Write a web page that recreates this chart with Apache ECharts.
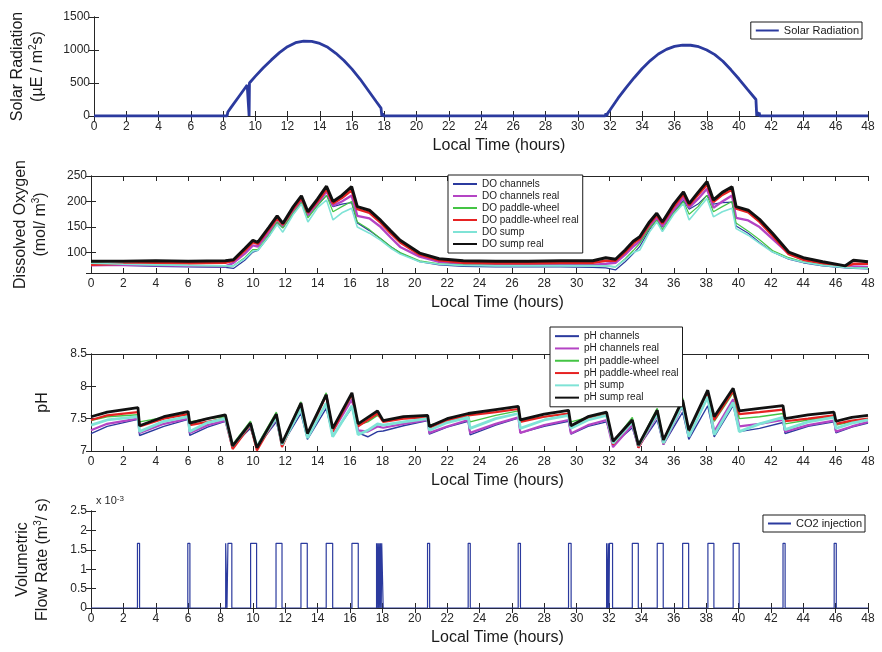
<!DOCTYPE html>
<html>
<head>
<meta charset="utf-8">
<script src="https://cdn.jsdelivr.net/npm/echarts@6/dist/echarts.min.js"></script>
<style>html,body{margin:0;padding:0;background:#fff}#chart{width:882px;height:652px}</style>
</head>
<body>
<div id="chart"></div>
<script>
// solar radiation (uE/m2s)
const solarTime = [0, 8.25, 8.3, 8.5, 9.0, 9.5, 9.6, 9.62, 9.64, 10, 10.5, 11, 11.5, 12, 12.5, 13, 13.5, 14, 14.5, 15, 15.5, 16, 16.5, 17, 17.5, 17.8, 17.85, 17.9, 17.95, 18.0, 18.05, 31.7, 31.75, 31.8, 31.85, 32, 32.5, 33, 33.5, 34, 34.5, 35, 35.5, 36, 36.5, 37, 37.5, 38, 38.5, 39, 39.5, 40, 40.5, 41.05, 41.1, 41.15, 41.2, 41.25, 41.3, 48];
const solarValue = [0, 0, 60, 130, 300, 470, 495, 0, 500, 600, 730, 850, 960, 1050, 1110, 1135, 1130, 1100, 1040, 950, 840, 710, 560, 390, 220, 120, 0, 40, 0, 30, 0, 0, 40, 0, 40, 90, 270, 430, 580, 720, 840, 940, 1010, 1055, 1075, 1072, 1050, 1000, 930, 830, 700, 560, 410, 250, 0, 60, 0, 50, 0, 0];

// dissolved oxygen (mol/m3)
const doTime = [0, 2, 4, 6, 8.3, 8.8, 9.5, 10.0, 10.3, 11.0, 11.5, 11.85, 12.5, 13.0, 13.4, 14.0, 14.55, 14.95, 15.5, 16.1, 16.45, 17.2, 17.9, 18.5, 19.1, 20.3, 21.5, 23, 25, 27, 29, 31, 31.8, 32.4, 33.0, 33.5, 33.9, 34.5, 34.95, 35.3, 36.0, 36.6, 36.95, 37.5, 38.05, 38.45, 39.0, 39.6, 39.85, 40.6, 41.3, 42.1, 43.1, 44.0, 45.2, 46.6, 47.1, 48];
const doChannels = [77, 75, 73, 72, 71, 69, 85, 101, 104, 132, 158, 150, 176, 197, 175, 193, 212, 190, 195, 198, 158, 143, 127, 112, 99, 82, 76, 73, 72, 72, 72, 71, 70, 66, 82, 98, 112, 145, 165, 150, 180, 202, 185, 195, 212, 195, 198, 199, 152, 138, 120, 101, 87, 80, 74, 70, 69, 68];
const doChannelsReal = [75, 76, 75, 74, 73, 80, 98, 114, 112, 140, 160, 150, 180, 200, 172, 195, 220, 192, 200, 212, 172, 167, 150, 130, 111, 92, 82, 78, 76, 76, 76, 76, 78, 80, 96, 112, 122, 150, 168, 152, 183, 208, 188, 205, 225, 188, 200, 212, 168, 163, 150, 127, 98, 86, 79, 72, 73, 72];
const doPaddle = [80, 78, 76, 75, 74, 74, 90, 106, 106, 135, 160, 148, 178, 198, 168, 192, 212, 180, 190, 200, 160, 145, 127, 112, 100, 84, 78, 76, 75, 75, 75, 75, 74, 72, 88, 104, 118, 148, 163, 145, 178, 200, 175, 190, 212, 180, 190, 200, 158, 142, 125, 104, 90, 82, 76, 71, 70, 70];
const doPaddleReal = [76, 78, 80, 79, 80, 84, 104, 120, 117, 146, 167, 155, 186, 206, 178, 200, 224, 196, 207, 222, 185, 178, 158, 138, 120, 96, 85, 80, 79, 79, 80, 80, 84, 84, 101, 118, 127, 156, 173, 157, 190, 214, 193, 213, 233, 199, 213, 223, 186, 179, 160, 133, 97, 86, 79, 72, 78, 78];
const doSump = [79, 77, 76, 75, 74, 74, 88, 103, 104, 132, 155, 140, 175, 195, 160, 188, 203, 164, 178, 187, 150, 138, 124, 109, 97, 82, 77, 75, 74, 74, 74, 74, 74, 72, 86, 100, 105, 140, 160, 141, 175, 196, 164, 185, 206, 170, 180, 187, 147, 134, 118, 101, 88, 81, 75, 71, 70, 69];
const doSumpReal = [83, 83, 84, 83, 84, 86, 108, 124, 120, 150, 172, 157, 190, 211, 180, 205, 230, 200, 212, 229, 190, 183, 163, 143, 124, 99, 88, 84, 83, 83, 84, 84, 90, 87, 105, 122, 131, 160, 177, 160, 195, 219, 196, 218, 239, 203, 218, 229, 190, 183, 165, 138, 101, 90, 82, 74, 85, 82];

// pH
const phTime = [0, 1, 2.9, 3.0, 4.5, 6.0, 6.1, 7.2, 8.3, 8.75, 9.85, 10.25, 11.45, 11.8, 12.97, 13.37, 14.53, 14.93, 16.12, 16.5, 17.1, 17.7, 18.05, 19.3, 20.8, 20.9, 22.0, 23.3, 23.42, 25.0, 26.4, 26.52, 28.0, 29.5, 29.65, 30.7, 31.85, 32.25, 33.44, 33.82, 34.98, 35.36, 36.55, 36.93, 38.1, 38.5, 39.67, 40.05, 41.3, 42.75, 42.88, 44.3, 45.9, 46.02, 47.0, 48];
const phChannels = [7.27, 7.38, 7.49, 7.24, 7.38, 7.49, 7.24, 7.37, 7.46, 7.08, 7.35, 7.06, 7.45, 7.10, 7.58, 7.18, 7.66, 7.24, 7.67, 7.28, 7.22, 7.30, 7.31, 7.39, 7.47, 7.26, 7.37, 7.46, 7.25, 7.40, 7.51, 7.28, 7.38, 7.46, 7.26, 7.38, 7.45, 7.10, 7.36, 7.06, 7.48, 7.10, 7.60, 7.18, 7.70, 7.22, 7.70, 7.30, 7.35, 7.44, 7.27, 7.38, 7.45, 7.28, 7.37, 7.43];
const phChannelsReal = [7.32, 7.42, 7.50, 7.28, 7.42, 7.50, 7.28, 7.40, 7.47, 7.05, 7.40, 7.05, 7.50, 7.08, 7.70, 7.22, 7.88, 7.30, 7.80, 7.32, 7.30, 7.38, 7.36, 7.42, 7.48, 7.28, 7.38, 7.48, 7.28, 7.42, 7.52, 7.28, 7.40, 7.48, 7.27, 7.40, 7.48, 7.06, 7.40, 7.05, 7.55, 7.10, 7.70, 7.22, 7.85, 7.30, 7.80, 7.38, 7.42, 7.48, 7.30, 7.40, 7.47, 7.30, 7.38, 7.45];
const phPaddle = [7.47, 7.53, 7.56, 7.45, 7.52, 7.56, 7.45, 7.50, 7.53, 7.10, 7.46, 7.08, 7.60, 7.12, 7.76, 7.25, 7.90, 7.32, 7.86, 7.40, 7.45, 7.55, 7.48, 7.50, 7.52, 7.40, 7.47, 7.55, 7.45, 7.55, 7.62, 7.47, 7.53, 7.58, 7.45, 7.52, 7.57, 7.14, 7.52, 7.10, 7.66, 7.16, 7.82, 7.30, 7.92, 7.46, 7.90, 7.50, 7.53, 7.58, 7.42, 7.48, 7.53, 7.40, 7.45, 7.48];
const phPaddleReal = [7.48, 7.55, 7.60, 7.38, 7.50, 7.57, 7.40, 7.45, 7.50, 7.03, 7.40, 7.01, 7.53, 7.06, 7.72, 7.22, 7.86, 7.30, 7.88, 7.38, 7.48, 7.58, 7.45, 7.50, 7.52, 7.36, 7.47, 7.55, 7.53, 7.60, 7.65, 7.45, 7.53, 7.58, 7.37, 7.50, 7.56, 7.10, 7.46, 7.05, 7.60, 7.12, 7.76, 7.28, 7.90, 7.48, 7.93, 7.57, 7.60, 7.64, 7.46, 7.50, 7.55, 7.42, 7.47, 7.50];
const phSump = [7.40, 7.48, 7.53, 7.30, 7.46, 7.53, 7.30, 7.44, 7.50, 7.08, 7.42, 7.07, 7.52, 7.10, 7.66, 7.20, 7.74, 7.22, 7.70, 7.25, 7.32, 7.42, 7.40, 7.45, 7.50, 7.32, 7.44, 7.52, 7.35, 7.50, 7.58, 7.35, 7.48, 7.55, 7.35, 7.48, 7.55, 7.12, 7.45, 7.08, 7.58, 7.12, 7.72, 7.22, 7.84, 7.25, 7.75, 7.30, 7.42, 7.52, 7.33, 7.45, 7.52, 7.35, 7.43, 7.48];
const phSumpReal = [7.53, 7.60, 7.67, 7.39, 7.53, 7.61, 7.43, 7.50, 7.56, 7.08, 7.43, 7.05, 7.57, 7.12, 7.74, 7.27, 7.87, 7.35, 7.90, 7.42, 7.52, 7.62, 7.47, 7.53, 7.55, 7.38, 7.50, 7.58, 7.57, 7.64, 7.69, 7.48, 7.57, 7.63, 7.39, 7.53, 7.60, 7.15, 7.48, 7.09, 7.63, 7.17, 7.79, 7.32, 7.94, 7.53, 7.97, 7.62, 7.66, 7.70, 7.50, 7.56, 7.60, 7.46, 7.52, 7.55];

// CO2 injection pulses (hours) and rate (x 10^-3 m3/s)
const co2Start = [2.87, 5.98, 8.32, 8.46, 9.86, 11.43, 12.97, 14.53, 16.12, 17.64, 17.72, 17.8, 17.88, 17.96, 20.79, 23.3, 26.39, 29.5, 31.85, 31.95, 32.03, 33.44, 34.98, 36.55, 38.11, 39.67, 42.75, 45.91];
const co2End = [3.0, 6.11, 8.4, 8.7, 10.23, 11.8, 13.36, 14.93, 16.51, 17.69, 17.77, 17.85, 17.93, 18.05, 20.92, 23.43, 26.53, 29.66, 31.92, 32.0, 32.22, 33.81, 35.35, 36.92, 38.48, 40.04, 42.88, 46.04];
const co2Rate = 1.667;

const FONT = 'Liberation Sans, Arial, Helvetica, sans-serif';
const BLUE = '#2b3a9e', MAGENTA = '#b444c4', GREEN = '#44c444', RED = '#e62222', CYAN = '#7fe3d6', BLACK = '#111111';

const zip = (t, v) => t.map((x, i) => [x, v[i]]);

const co2Data = [[0, 0]];
co2Start.forEach((s, i) => {
  co2Data.push([s, 0], [s, co2Rate], [co2End[i], co2Rate], [co2End[i], 0]);
});
co2Data.push([48, 0]);

const grids = [
  {left: 91, top: 17, width: 777, height: 99},
  {left: 91, top: 176, width: 777, height: 97},
  {left: 91, top: 354, width: 777, height: 97},
  {left: 91, top: 511, width: 777, height: 97}
];

const yCfg = [
  {min: 0, max: 1500, interval: 500, name: 'Solar Radiation\n(µE / m{sup|2}s)', nameGap: 46},
  {min: 60, max: 250, splitNumber: 4, hideMin: true, name: 'Dissolved Oxygen\n(mol/ m{sup|3})', nameGap: 40},
  {min: 7, max: 8.5, interval: 0.5, name: 'pH', nameGap: 38},
  {min: 0, max: 2.5, interval: 0.5, name: 'Volumetric\nFlow Rate (m{sup|3}/ s)', nameGap: 38}
];

const lineAxis = {show: true, lineStyle: {color: '#262626', width: 1}};
const tick = {show: true, inside: true, length: 5, lineStyle: {color: '#262626'}};

const xAxis = [], yAxis = [];
grids.forEach((g, i) => {
  xAxis.push({
    gridIndex: i, type: 'value', min: 0, max: 48, interval: 2,
    axisLine: lineAxis, axisTick: tick, splitLine: {show: false},
    axisLabel: {fontFamily: FONT, fontSize: 12, color: '#262626', margin: 5},
    name: 'Local Time (hours)', nameLocation: 'middle', nameGap: 22,
    nameTextStyle: {fontFamily: FONT, fontSize: 16, color: '#1a1a1a', padding: [0, 0, 0, 36]}
  });
  xAxis.push({
    gridIndex: i, type: 'value', position: 'top', min: 0, max: 48, interval: 2,
    axisLine: lineAxis, axisTick: tick, axisLabel: {show: false}, splitLine: {show: false}
  });
  const c = yCfg[i];
  const base = {gridIndex: i, type: 'value', min: c.min, max: c.max, splitLine: {show: false}, axisLine: lineAxis, axisTick: tick};
  if (c.interval) base.interval = c.interval;
  if (c.splitNumber) base.splitNumber = c.splitNumber;
  yAxis.push(Object.assign({}, base, {
    axisLabel: {fontFamily: FONT, fontSize: 12, color: '#262626', margin: 4, showMinLabel: !c.hideMin,
      formatter: (v) => String(v)},
    name: c.name, nameLocation: 'middle', nameGap: c.nameGap,
    nameTextStyle: {fontFamily: FONT, fontSize: 16, color: '#1a1a1a', lineHeight: 20,
      rich: {sup: {fontFamily: FONT, fontSize: 10, verticalAlign: 'top', lineHeight: 14}}}
  }));
  yAxis.push(Object.assign({}, base, {position: 'right', axisLabel: {show: false}}));
});

function line(name, grid, data, color, width) {
  return {
    name: name, type: 'line', xAxisIndex: grid * 2, yAxisIndex: grid * 2,
    data: data, showSymbol: false, symbol: 'none', animation: false,
    lineStyle: {color: color, width: width}, itemStyle: {color: color}
  };
}

const series = [
  line('Solar Radiation', 0, zip(solarTime, solarValue), BLUE, 2.8),
  line('DO channels', 1, zip(doTime, doChannels), BLUE, 1.2),
  line('DO channels real', 1, zip(doTime, doChannelsReal), MAGENTA, 2.4),
  line('DO paddle-wheel', 1, zip(doTime, doPaddle), GREEN, 1.2),
  line('DO paddle-wheel real', 1, zip(doTime, doPaddleReal), RED, 2.4),
  line('DO sump', 1, zip(doTime, doSump), CYAN, 1.6),
  line('DO sump real', 1, zip(doTime, doSumpReal), BLACK, 3),
  line('pH channels', 2, zip(phTime, phChannels), BLUE, 1.4),
  line('pH channels real', 2, zip(phTime, phChannelsReal), MAGENTA, 2.2),
  line('pH paddle-wheel', 2, zip(phTime, phPaddle), GREEN, 1.4),
  line('pH paddle-wheel real', 2, zip(phTime, phPaddleReal), RED, 2.2),
  line('pH sump', 2, zip(phTime, phSump), CYAN, 2.8),
  line('pH sump real', 2, zip(phTime, phSumpReal), BLACK, 2.8),
  line('CO2 injection', 3, co2Data, BLUE, 1.2)
];

const legendBase = {
  orient: 'vertical', icon: 'rect', itemWidth: 23, itemHeight: 2, itemGap: 0,
  borderColor: '#1a1a1a', borderWidth: 1, borderRadius: 0, backgroundColor: '#fff',
  textStyle: {fontFamily: FONT, fontSize: 11, color: '#1a1a1a', lineHeight: 13}, z: 10
};

const legend = [
  Object.assign({}, legendBase, {data: ['Solar Radiation'], right: 20, top: 22, padding: [2, 3, 2, 5]}),
  Object.assign({}, legendBase, {
    data: ['DO channels', 'DO channels real', 'DO paddle-wheel', 'DO paddle-wheel real', 'DO sump', 'DO sump real'],
    left: 448, top: 175, padding: [3, 4, 3, 5], itemWidth: 24,
    textStyle: {fontFamily: FONT, fontSize: 10, color: '#1a1a1a', lineHeight: 12}
  }),
  Object.assign({}, legendBase, {
    data: ['pH channels', 'pH channels real', 'pH paddle-wheel', 'pH paddle-wheel real', 'pH sump', 'pH sump real'],
    left: 550, top: 327, padding: [3, 4, 3, 5], itemWidth: 24,
    textStyle: {fontFamily: FONT, fontSize: 10, color: '#1a1a1a', lineHeight: 12.3}
  }),
  Object.assign({}, legendBase, {data: ['CO2 injection'], right: 17, top: 515, padding: [2, 3, 2, 5]})
];

const chart = echarts.init(document.getElementById('chart'));
chart.setOption({
  animation: false,
  backgroundColor: '#fff',
  grid: grids,
  xAxis: xAxis,
  yAxis: yAxis,
  legend: legend,
  series: series,
  graphic: [{
    type: 'text', left: 96, top: 495,
    style: {
      text: 'x 10{sup|-3}', fontFamily: FONT, fontSize: 11, fill: '#262626',
      rich: {sup: {fontSize: 8, verticalAlign: 'top', fill: '#262626'}}
    }
  }]
});
</script>
</body>
</html>
